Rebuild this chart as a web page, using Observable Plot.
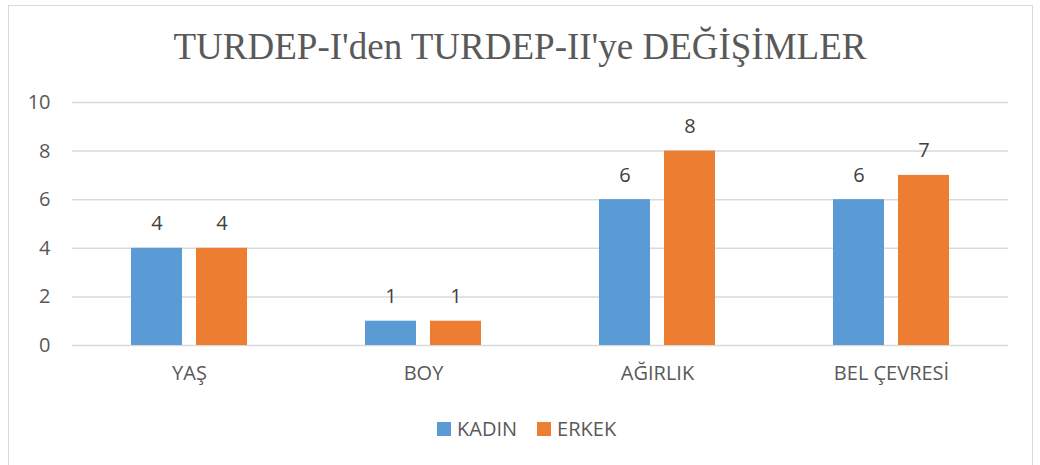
<!DOCTYPE html>
<html>
<head>
<meta charset="utf-8">
<script src="https://cdn.jsdelivr.net/npm/d3@7"></script>
<script src="https://cdn.jsdelivr.net/npm/@observablehq/plot@0.6"></script>
<style>
  html, body { margin: 0; padding: 0; background: #fff; }
  #frame { position: absolute; left: 8px; top: 5px; width: 1025px; height: 470px; border: 1.5px solid #d9d9d9; box-sizing: border-box; }
  #title { position: absolute; left: 0; top: 25px; width: 1040px; text-align: center; font-family: "Liberation Serif", "Times New Roman", serif; font-size: 37px; color: #595959; }
  #chart { position: absolute; left: 0; top: 80px; }
  #legend { position: absolute; left: 437px; top: 415px; display: flex; font-family: "Open Sans", sans-serif; font-size: 20px; color: #595959; }
  .item { display: flex; align-items: center; margin-right: 20px; }
  .sw { width: 14px; height: 14px; margin-right: 6px; }
</style>
</head>
<body>
<div id="frame"></div>
<div id="title">TURDEP-I'den TURDEP-II'ye DEĞİŞİMLER</div>
<div id="chart"></div>
<div id="legend"></div>
<script>
const categories = ["YAŞ", "BOY", "AĞIRLIK", "BEL ÇEVRESİ"];
const series = ["KADIN", "ERKEK"];
const kadin = [4, 1, 6, 6];
const erkek = [4, 1, 8, 7];
const colors = ["#5B9BD5", "#ED7D31"];
const yTicks = [0, 2, 4, 6, 8, 10];

const data = [];
categories.forEach((c, i) => {
  data.push({cat: c, s: "KADIN", v: kadin[i]});
  data.push({cat: c, s: "ERKEK", v: erkek[i]});
});

const chart = Plot.plot({
  width: 1040,
  height: 315,
  marginLeft: 72,
  marginRight: 32,
  marginTop: 22,
  marginBottom: 50,
  style: {fontFamily: "'Open Sans', sans-serif", fontSize: "20px", color: "#595959", background: "transparent"},
  fx: {domain: categories, padding: 0, label: null},
  x: {domain: series, paddingInner: 0.212, paddingOuter: 0.879, axis: null},
  y: {domain: [0, 10], ticks: yTicks, label: null},
  color: {domain: series, range: colors},
  marks: [
    Plot.ruleY(yTicks, {stroke: "#d9d9d9", strokeWidth: 1.5}),
    Plot.barY(data, {fx: "cat", x: "s", y: "v", fill: "s"}),
    Plot.text(data, {fx: "cat", x: "s", y: "v", text: d => String(d.v), lineAnchor: "bottom", dy: -18, fill: "#404040", fontSize: 20}),
    Plot.axisY({ticks: yTicks, tickSize: 0, tickPadding: 22, fill: "#595959", fontSize: 20, label: null}),
    Plot.axisFx({anchor: "bottom", tickSize: 0, tickPadding: 20, fill: "#595959", fontSize: 20, label: null})
  ]
});
document.getElementById("chart").appendChild(chart);

const legend = document.getElementById("legend");
series.forEach((s, i) => {
  const it = document.createElement("div");
  it.className = "item";
  const sw = document.createElement("div");
  sw.className = "sw";
  sw.style.background = colors[i];
  const t = document.createElement("span");
  t.textContent = s;
  it.appendChild(sw);
  it.appendChild(t);
  legend.appendChild(it);
});
</script>
</body>
</html>
